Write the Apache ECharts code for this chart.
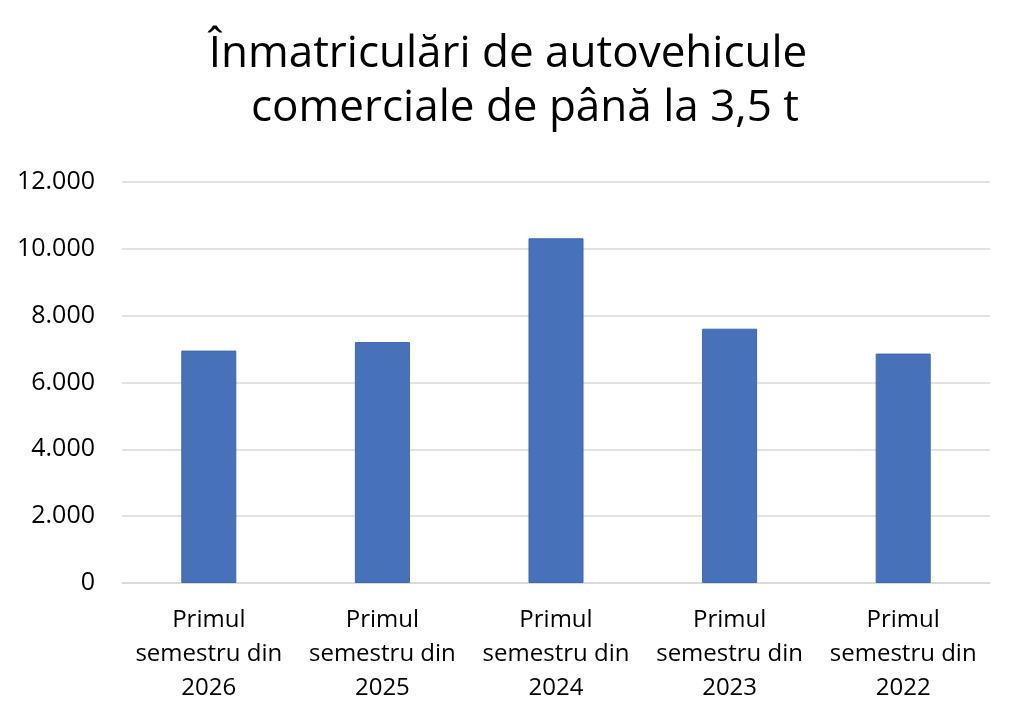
<!DOCTYPE html>
<html>
<head>
<meta charset="utf-8">
<script src="https://cdn.jsdelivr.net/npm/echarts@6/dist/echarts.min.js"></script>
<style>
html, body { margin: 0; padding: 0; background: #fff; }
#chart { width: 1024px; height: 723px; }
</style>
</head>
<body>
<div id="chart"></div>
<script>
var titleLines = ['Înmatriculări de autovehicule', 'comerciale de până la 3,5 t'];
var categories = [
    'Primul\nsemestru din\n2026',
    'Primul\nsemestru din\n2025',
    'Primul\nsemestru din\n2024',
    'Primul\nsemestru din\n2023',
    'Primul\nsemestru din\n2022'
];
var values = [6955, 7210, 10315, 7610, 6865];
var yTicks = { min: 0, max: 12000, interval: 2000 };

var chart = echarts.init(document.getElementById('chart'));

function fmt(v) { // 12000 -> 12.000
    return String(v).replace(/\B(?=(\d{3})+(?!\d))/g, '.');
}

var option = {
    animation: false,
    textStyle: { fontFamily: 'Open Sans' },
    title: [
        {
            text: titleLines[0],
            left: 508, top: 32, padding: 0,
            textAlign: 'center',
            textStyle: { fontSize: 44, fontWeight: 'normal', color: '#000', fontFamily: 'Open Sans' }
        },
        {
            text: titleLines[1],
            left: 525, top: 86, padding: 0,
            textAlign: 'center',
            textStyle: { fontSize: 44, fontWeight: 'normal', color: '#000', fontFamily: 'Open Sans' }
        }
    ],
    grid: { left: 122, right: 34, top: 182, bottom: 140 },
    xAxis: {
        type: 'category',
        data: categories,
        axisTick: { show: false },
        axisLine: { lineStyle: { color: '#d9d9d9', width: 1.5 } },
        axisLabel: {
            color: '#000',
            fontSize: 24,
            lineHeight: 34,
            margin: 20,
            interval: 0
        }
    },
    yAxis: {
        type: 'value',
        min: yTicks.min,
        max: yTicks.max,
        interval: yTicks.interval,
        axisLine: { show: false },
        axisTick: { show: false },
        splitLine: { lineStyle: { color: '#d9d9d9', width: 1.5 } },
        axisLabel: {
            color: '#000',
            fontSize: 25,
            margin: 27,
            formatter: fmt
        }
    },
    series: [
        {
            type: 'bar',
            data: values,
            barWidth: 55,
            itemStyle: { color: '#4771b9', borderColor: '#3f67ad', borderWidth: 1 }
        }
    ]
};

chart.setOption(option);
</script>
</body>
</html>
